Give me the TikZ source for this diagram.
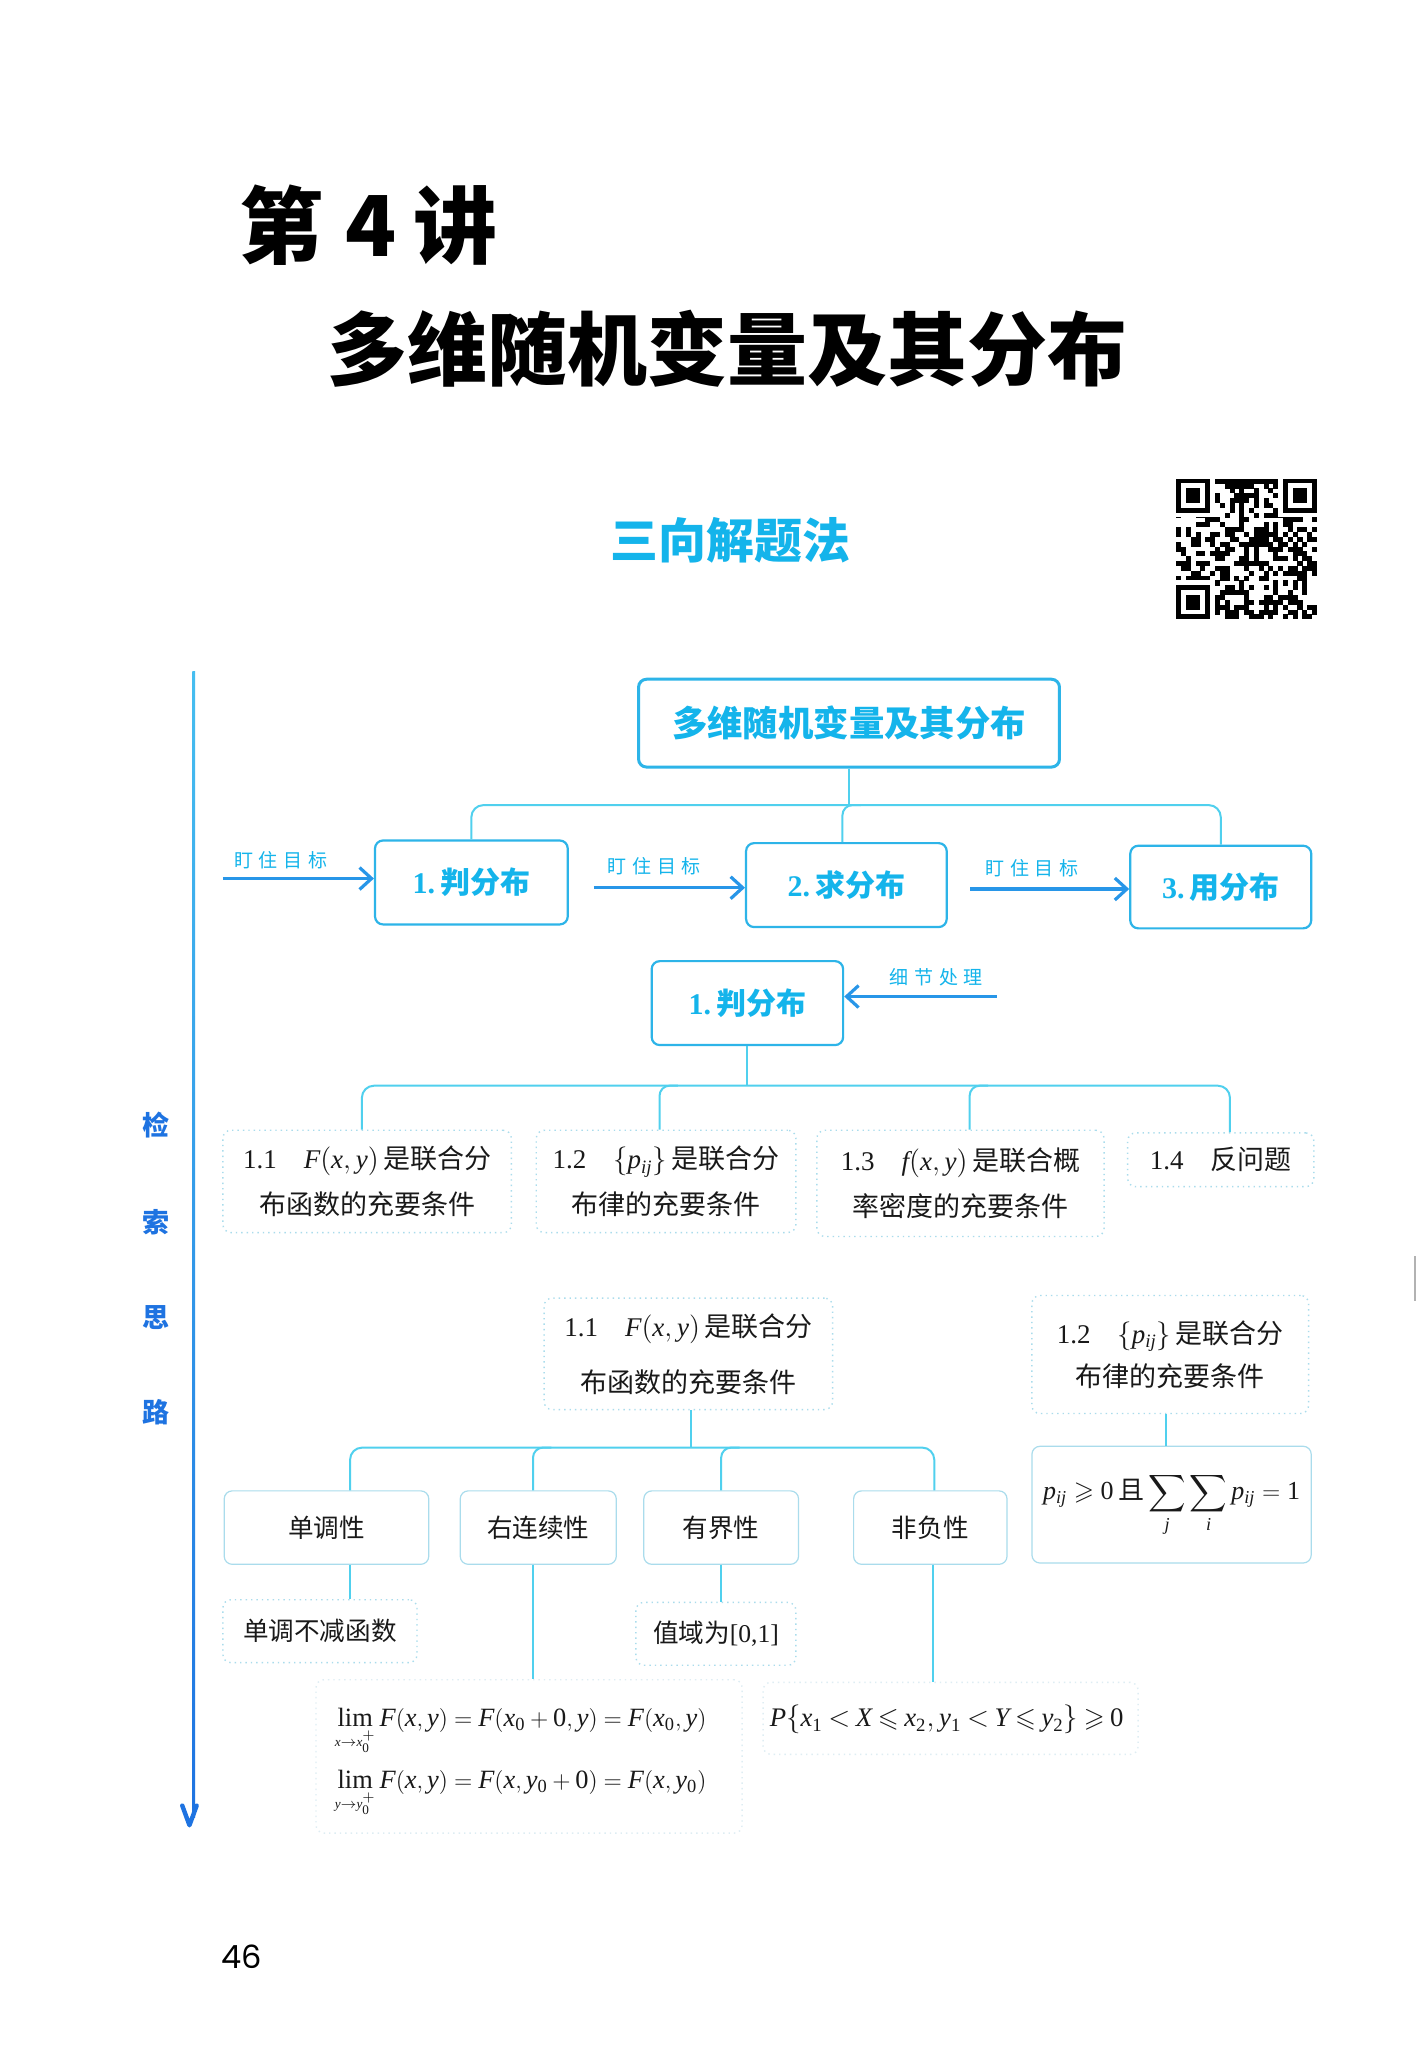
\documentclass[tikz,border=0pt]{standalone}
\usepackage{amsmath}
\usepackage{amssymb}
\usepackage{mathspec}
\setmainfont{Liberation Serif}
\setmathsfont(Digits,Latin){Liberation Serif}
\newfontfamily\cjk{Noto Sans CJK SC}
\newfontfamily\cjkhand[LetterSpace=30]{Noto Sans CJK SC}
\newfontfamily\pagefont{Poppins}
\usetikzlibrary{arrows.meta,calc}
\definecolor{cyanline}{RGB}{80,208,238}
\definecolor{cyanbox}{RGB}{45,180,232}
\definecolor{cyantext}{RGB}{20,180,235}
\definecolor{lightbdr}{RGB}{170,220,236}
\definecolor{faintbdr}{RGB}{222,237,243}
\definecolor{leftblue}{RGB}{30,115,225}
\definecolor{leftcyan}{RGB}{70,190,240}
\definecolor{arrowblue}{RGB}{40,150,232}
\definecolor{txt}{RGB}{25,25,25}
\newcommand\limop[1]{\mathop{\text{lim}}\limits_{\scriptscriptstyle #1}}
\newcommand\tightm{\thickmuskip=3.5mu\relax\medmuskip=2.5mu\relax}
\newcommand\midm{\thickmuskip=4.5mu\relax\medmuskip=3.5mu\relax}
\begin{document}
\begin{tikzpicture}[x=0.65585pt,y=-0.65585pt,
  sz/.style 2 args={minimum width={#1*0.65585pt}, minimum height={#2*0.65585pt}},
  topbox/.style={draw=cyanbox, line width=1.5pt, rounded corners=4pt, inner sep=0pt, text=cyantext, font=\cjk\bfseries\fontsize{17.7}{20}\selectfont},
  midbox/.style={draw=cyanbox, line width=1.1pt, rounded corners=4pt, inner sep=0pt, text=cyantext, font=\bfseries\fontsize{15}{18}\selectfont},
  dotbox/.style={draw=lightbdr, dotted, line width=0.7pt, rounded corners=4pt, inner sep=0pt, align=center, text=txt, font=\fontsize{13.5}{23}\selectfont},
  plainbox/.style={draw=lightbdr, line width=0.6pt, rounded corners=4pt, inner sep=0pt, text=txt, font=\cjk\fontsize{12.8}{15}\selectfont},
  faintbox/.style={draw=faintbdr, dotted, line width=0.7pt, rounded corners=4pt, inner sep=0pt},
  conn/.style={draw=cyanline, line width=1pt},
  goal/.style={-{Straight Barb[length=6pt,width=11pt,line width=1.6pt]}, draw=arrowblue, line width=1.6pt},
  hand/.style={text=cyantext, font=\cjkhand\fontsize{9.5}{11}\selectfont},
  fml/.style={text=txt, font=\fontsize{13.2}{15}\selectfont, inner sep=0pt}
]
\useasboundingbox (0,0) rectangle (1081,1568);
\fill[white] (0,0) rectangle (1081,1568);

% ---------- titles ----------
\node[font=\cjk\bfseries\fontsize{42}{44}\selectfont] (t1) at (215,172) {第};
\node[font=\cjk\bfseries\fontsize{42}{44}\selectfont] (t2) at (283,172) {4};
\node[font=\cjk\bfseries\fontsize{42}{44}\selectfont] (t3) at (347,172) {讲};
\node[font=\cjk\bfseries\fontsize{40}{42}\selectfont] (t4) at (555,266) {多维随机变量及其分布};
\node[font=\cjk\bfseries\fontsize{24}{26}\selectfont, text=cyantext] (t5) at (557,412) {三向解题法};

% ---------- QR code ----------
\begin{scope}[shift={(897,365)}, scale=3.7]
  \foreach \i in {0,...,28} {
    \foreach \j in {0,...,28} {
      \pgfmathtruncatemacro\v{mod(mod(mod(\i*\i,97)*\j,97)*7+mod(mod(\j*\j,89)*\i,89)*3+13*\i+17*\j+mod(\i*\j,23)*31,13)}
      \ifnum\v<6 \fill[black] (\i,\j) rectangle ++(1.04,1.04); \fi
    }
  }
  \fill[white] (0,0) rectangle (8,8);
  \fill[white] (21,0) rectangle (29,8);
  \fill[white] (0,21) rectangle (8,29);
  \foreach \a/\b in {0/0,22/0,0/22} {
    \fill[black] (\a,\b) rectangle ++(7,7);
    \fill[white] (\a+1,\b+1) rectangle ++(5,5);
    \fill[black] (\a+2,\b+2) rectangle ++(3,3);
  }
\end{scope}

% ---------- left guide line ----------
\shade[top color=leftcyan, bottom color=leftblue] (146.8,512) rectangle (148.8,1386);
\draw[leftblue, line width=2.2pt, line cap=round, line join=round] (139,1377) -- (144.5,1392) -- (150,1377);
\node[font=\cjk\bfseries\fontsize{13.5}{15}\selectfont, text=leftblue] (s1) at (119,858) {检};
\node[font=\cjk\bfseries\fontsize{13.5}{15}\selectfont, text=leftblue] (s2) at (119,932) {索};
\node[font=\cjk\bfseries\fontsize{13.5}{15}\selectfont, text=leftblue] (s3) at (119,1005) {思};
\node[font=\cjk\bfseries\fontsize{13.5}{15}\selectfont, text=leftblue] (s4) at (119,1077) {路};

% ---------- top box and row 2 ----------
\node[topbox, sz={321}{67}] (top) at (647.5,551.5) {多维随机变量及其分布};
\node[midbox, sz={147}{64}] (b1) at (359.5,673) {1.\,{\cjk 判分布}};
\node[midbox, sz={153}{64}] (b2) at (645.5,675) {2.\,{\cjk 求分布}};
\node[midbox, sz={138}{63}] (b3) at (931,676.5) {3.\,{\cjk 用分布}};

\coordinate (bar1) at (0,614);
\draw[conn] (top.south) -- (top.south |- bar1);
\draw[conn, rounded corners=6pt] (b1.north) -- (b1.north |- bar1) -- (b3.north |- bar1) -- (b3.north);
\coordinate (b2t) at ($(b2.north)+(-3,0)$);
\draw[conn, rounded corners=5pt] (b2t) -- (b2t |- bar1) -- ++(14,0);

\coordinate (a1s) at (170,670);
\coordinate (a2s) at (453,677);
\coordinate (a3s) at (740,678);
\draw[goal] (a1s) -- (b1.west |- a1s);
\draw[goal] (a2s) -- (b2.west |- a2s);
\draw[goal] (a3s) -- (b3.west |- a3s);
\node[hand] (h1) at (214,656) {盯住目标};
\node[hand] (h2) at (499,661) {盯住目标};
\node[hand] (h3) at (787,662) {盯住目标};

% ---------- second level ----------
\node[midbox, sz={146}{64}] (j2) at (570,765) {1.\,{\cjk 判分布}};
\coordinate (a4s) at (760,760);
\draw[goal] (a4s) -- (j2.east |- a4s);
\node[hand] (h4) at (714,745) {细节处理};

\node[dotbox, sz={220}{78}] (c1) at (280,901) {1.1\quad$F(x,y)$\,{\cjk 是联合分}\\{\cjk 布函数的充要条件}};
\node[dotbox, sz={198}{78}] (c2) at (508,901) {1.2\quad$\{p_{ij}\}$\,{\cjk 是联合分}\\{\cjk 布律的充要条件}};
\node[dotbox, sz={219}{81}] (c3) at (732.5,902.5) {1.3\quad$f(x,y)$\,{\cjk 是联合概}\\{\cjk 率密度的充要条件}};
\node[dotbox, sz={142}{41}] (c4) at (931,884.5) {1.4\quad{\cjk 反问题}};

\coordinate (bar2) at (0,828);
\coordinate (c1t) at ($(c1.north)+(-4,0)$);
\coordinate (c2t) at ($(c2.north)+(-5,0)$);
\coordinate (c3t) at ($(c3.north)+(7,0)$);
\coordinate (c4t) at ($(c4.north)+(7,0)$);
\draw[conn] (j2.south) -- (j2.south |- bar2);
\draw[conn, rounded corners=6pt] (c1t) -- (c1t |- bar2) -- (c4t |- bar2) -- (c4t);
\draw[conn, rounded corners=5pt] (c2t) -- (c2t |- bar2) -- ++(14,0);
\draw[conn, rounded corners=5pt] (c3t) -- (c3t |- bar2) -- ++(14,0);

% ---------- third level ----------
\node[dotbox, font=\fontsize{13.5}{28}\selectfont, sz={220}{85}] (d1) at (525,1032.5) {1.1\quad$F(x,y)$\,{\cjk 是联合分}\\{\cjk 布函数的充要条件}};
\node[dotbox, font=\fontsize{13.5}{21.6}\selectfont, sz={211}{90}] (d2) at (892.5,1033) {1.2\quad$\{p_{ij}\}$\,{\cjk 是联合分}\\{\cjk 布律的充要条件}};

\node[plainbox, sz={156}{56}] (e1) at (249,1165) {单调性};
\node[plainbox, sz={119}{56}] (e2) at (410.5,1165) {右连续性};
\node[plainbox, sz={118}{56}] (e3) at (550,1165) {有界性};
\node[plainbox, sz={117}{56}] (e4) at (709.5,1165) {非负性};
\node[plainbox, font=\fontsize{13}{15}\selectfont, sz={213}{89}] (e5) at (893.5,1147.5) {$p_{ij}\geqslant 0$\,{\cjk 且}\,$\displaystyle\sum_{j}\sum_{i}p_{ij}=1$};

\coordinate (bar3) at (0,1104);
\coordinate (d1b) at ($(d1.south)+(2,0)$);
\coordinate (e1t) at ($(e1.north)+(18,0)$);
\coordinate (e2t) at ($(e2.north)+(-4,0)$);
\coordinate (e3t) at (e3.north);
\coordinate (e4t) at ($(e4.north)+(3,0)$);
\draw[conn] (d1b) -- (d1b |- bar3);
\draw[conn, rounded corners=6pt] (e1t) -- (e1t |- bar3) -- (e4t |- bar3) -- (e4t);
\draw[conn, rounded corners=5pt] (e2t) -- (e2t |- bar3) -- ++(14,0);
\draw[conn, rounded corners=5pt] (e3t) -- (e3t |- bar3) -- ++(14,0);
\coordinate (d2b) at ($(d2.south)+(-3,0)$);
\draw[conn] (d2b) -- (d2b |- e5.north);

% ---------- fourth level ----------
\node[dotbox, font=\cjk\fontsize{12.8}{15}\selectfont, sz={148}{48}] (f1) at (244,1244) {单调不减函数};
\node[dotbox, font=\fontsize{12.8}{15}\selectfont, sz={122}{48}] (f2) at (546,1246) {{\cjk 值域为}[0,1]};
\coordinate (e1b) at ($(e1.south)+(18,0)$);
\draw[conn] (e1b) -- (e1b |- f1.north);
\draw[conn] (e3.south) -- (e3.south |- f2.north);

\node[faintbox, sz={325}{117}] (g1) at (403.5,1339.5) {};
\node[faintbox, sz={286}{55}] (g2) at (725,1310.5) {};
\coordinate (e2b) at ($(e2.south)+(-4,0)$);
\coordinate (e4b) at ($(e4.south)+(2,0)$);
\draw[conn] (e2b) -- (e2b |- g1.north);
\draw[conn] (e4b) -- (e4b |- g2.north);

\node[fml, anchor=base west] (l1) at (255,1317) {$\midm\limop{x\to x_0^+}F(x,y)=F(x_0+0,y)=F(x_0,y)$};
\node[fml, anchor=base west] (l2) at (255,1364) {$\midm\limop{y\to y_0^+}F(x,y)=F(x,y_0+0)=F(x,y_0)$};
\node[fml, font=\fontsize{13.4}{15}\selectfont, anchor=base] (pf) at (722,1317) {$\tightm P\{x_1<X\leqslant x_2,y_1<Y\leqslant y_2\}\geqslant 0$};

% ---------- page number and scan mark ----------
\node[font=\pagefont\fontsize{16}{18}\selectfont] (pg) at (184,1492) {46};
\draw[gray!60, line width=0.8pt] (1079,958) -- (1079,992);
\end{tikzpicture}
\end{document}
